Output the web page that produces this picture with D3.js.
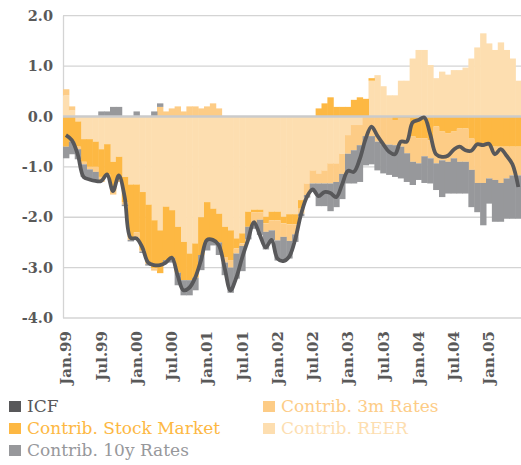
<!DOCTYPE html>
<html>
<head>
<meta charset="utf-8">
<script src="https://cdn.jsdelivr.net/npm/d3@7"></script>
<style>
  body { margin: 0; background: #fff; }
  svg { display: block; }
  text { font-family: 'DejaVu Serif', serif; }
</style>
</head>
<body>
<svg width="521" height="465"></svg>
<script>
// monthly categories, Jan.99 .. Jun.05
var months = d3.timeMonths(new Date(1999, 0, 1), new Date(2005, 6, 1));
var tickLabels = ['Jan.99', 'Jul.99', 'Jan.00', 'Jul.00', 'Jan.01', 'Jul.01', 'Jan.02',
  'Jul.02', 'Jan.03', 'Jul.03', 'Jan.04', 'Jul.04', 'Jan.05'];
var yTicks = [-4, -3, -2, -1, 0, 1, 2];

// contributions (stacked bars)
var reer = [0.42, 0.12, -0.10, -0.45, -0.45, -0.50, -0.65, -0.55, -0.90, -0.80,
  -1.20, -1.35, -1.35, -1.50, -1.75, -2.06, -2.26, -1.79, -1.86, -2.19,
  -2.49, -2.72, -2.52, -2.00, -1.70, -1.83, -1.93, -2.19, -2.26, -2.42,
  -2.32, -1.89, -1.85, -1.85, -1.99, -1.89, -1.89, -1.99, -1.94, -1.94,
  -1.66, -1.33, -1.07, -1.13, -1.07, -0.93, -0.93, -0.74, -0.37, -0.17,
  -0.17, 0, 0.71, 0.82, 0.60, 0.42, 0.42, 0.71, 0.71, 1.15,
  1.32, 1.32, 1.02, 0.76, 0.89, 0.83, 0.92, 0.92, 0.97, 1.15,
  1.37, 1.65, 1.45, 1.32, 1.47, 1.32, 1.15, 0.71];
var stock = [-0.60, -0.50, -0.50, -0.45, -0.55, -0.50, -0.55, -0.60, -0.55, -0.45,
  -0.50, -1.05, -0.95, -1.15, -1.15, -0.95, -0.85, -1.06, -0.94, -0.91,
  -0.76, -0.53, -0.68, -0.75, -0.76, -0.63, -0.57, -0.60, -0.59, -0.20,
  -0.20, -0.30, -0.05, -0.05, -0.13, -0.17, -0.17, -0.13, -0.20, -0.20,
  -0.17, 0, 0, 0.16, 0.26, 0.38, 0.19, 0.19, 0.19, 0.33,
  0.38, 0.35, 0.05, 0, 0, 0, -0.07, -0.03, -0.03, -0.40,
  -0.43, -0.43, -0.47, -0.20, -0.30, -0.33, -0.30, -0.24, -0.24, -0.44,
  -0.60, -0.60, -0.60, -0.60, -0.60, -0.60, -0.60, -0.60];
var rates3m = [0.12, 0.08, -0.05, -0.05, -0.05, -0.10, -0.10, -0.05, -0.10, -0.05,
  -0.05, -0.05, -0.10, -0.03, -0.03, -0.05, 0.19, 0.10, 0.16, 0.20,
  0.10, 0.20, 0.20, 0.16, 0.20, 0.26, 0.16, -0.11, -0.15, -0.10,
  -0.05, 0, -0.23, -0.15, -0.17, -0.20, -0.40, -0.27, -0.33, -0.20,
  -0.10, -0.23, -0.26, -0.20, -0.26, -0.40, -0.37, -0.40, -0.37, -0.50,
  -0.40, -0.39, -0.39, -0.50, -0.56, -0.56, -0.50, -0.57, -0.70, -0.50,
  -0.50, -0.36, -0.36, -0.73, -0.57, -0.57, -0.53, -0.66, -0.66, -0.62,
  -0.72, -0.72, -0.63, -0.66, -0.72, -0.63, -0.57, -0.57];
var rates10y = [-0.23, -0.25, -0.20, -0.25, -0.20, -0.20, 0.10, 0.10, 0.19, 0.19,
  -0.03, -0.03, 0.10, -0.03, -0.03, 0.10, 0.07, -0.05, -0.10, -0.25,
  -0.30, -0.30, -0.25, -0.30, -0.20, -0.10, -0.25, -0.25, -0.50, -0.50,
  -0.50, -0.25, -0.10, -0.30, -0.35, -0.20, -0.40, -0.50, -0.35, -0.15,
  -0.05, -0.05, -0.12, -0.45, -0.45, -0.55, -0.50, -0.50, -0.59, -0.66,
  -0.73, -0.58, -0.56, -0.57, -0.57, -0.60, -0.63, -0.63, -0.57, -0.46,
  -0.33, -0.53, -0.50, -0.53, -0.73, -0.63, -0.70, -0.63, -0.63, -0.74,
  -0.58, -0.84, -0.50, -0.83, -0.77, -0.80, -0.86, -0.86];
// ICF line
var icf = [-0.37, -0.47, -0.75, -1.20, -1.25, -1.28, -1.28, -1.15, -1.48, -1.17,
  -1.60, -2.41, -2.42, -2.60, -2.90, -2.95, -2.95, -2.90, -2.80, -3.15,
  -3.45, -3.40, -3.20, -2.85, -2.45, -2.45, -2.55, -3.00, -3.45, -3.20,
  -2.80, -2.45, -2.10, -2.35, -2.60, -2.45, -2.82, -2.87, -2.78, -2.45,
  -1.95, -1.60, -1.45, -1.58, -1.50, -1.52, -1.60, -1.35, -1.08, -1.10,
  -0.85, -0.45, -0.20, -0.38, -0.55, -0.70, -0.75, -0.50, -0.50, -0.12,
  -0.07, -0.02, -0.35, -0.75, -0.80, -0.78, -0.66, -0.60, -0.67, -0.68,
  -0.55, -0.57, -0.54, -0.75, -0.65, -0.78, -0.95, -1.40];

var keys = ['reer', 'stock', 'rates3m', 'rates10y'];
var colors = {
  icf: '#58585a',
  stock: '#fdb843',
  rates10y: '#97989b',
  rates3m: '#fdcc86',
  reer: '#fddeb0'
};

var rows = months.map(function (m, i) {
  return { reer: reer[i], stock: stock[i], rates3m: rates3m[i], rates10y: rates10y[i] };
});

var svg = d3.select('svg');

var x = d3.scaleBand().domain(d3.range(months.length)).range([63, 521.25]).padding(0);
var y = d3.scaleLinear().domain([-4, 2]).range([318, 15.7]);

// gridlines
svg.append('g')
  .selectAll('line')
  .data(yTicks.filter(function (d) { return d !== 0; }))
  .enter()
  .append('line')
  .attr('x1', 63)
  .attr('x2', 521)
  .attr('y1', function (d) { return y(d); })
  .attr('y2', function (d) { return y(d); })
  .attr('stroke', '#d4d4d4')
  .attr('stroke-width', 1.3);

svg.append('line')
  .attr('x1', 63.5).attr('x2', 63.5)
  .attr('y1', y(2)).attr('y2', y(-4))
  .attr('stroke', '#d4d4d4')
  .attr('stroke-width', 1.3);

// stacked bars
var series = d3.stack().keys(keys).offset(d3.stackOffsetDiverging)(rows);

svg.append('g')
  .selectAll('g')
  .data(series)
  .enter()
  .append('g')
  .attr('fill', function (d) { return colors[d.key]; })
  .selectAll('rect')
  .data(function (d) { return d; })
  .enter()
  .append('rect')
  .attr('x', function (d, i) { return x(i); })
  .attr('width', x.bandwidth() + 0.5)
  .attr('y', function (d) { return y(Math.max(d[0], d[1])); })
  .attr('height', function (d) { return Math.abs(y(d[0]) - y(d[1])); });

// zero line
svg.append('line')
  .attr('x1', 63)
  .attr('x2', 521)
  .attr('y1', y(0))
  .attr('y2', y(0))
  .attr('stroke', '#cbcbcb')
  .attr('stroke-width', 2.5);

// ICF line
var line = d3.line()
  .x(function (d, i) { return x(i) + x.bandwidth() / 2; })
  .y(function (d) { return y(d); })
  .curve(d3.curveCatmullRom.alpha(0.5));

svg.append('path')
  .datum(icf)
  .attr('fill', 'none')
  .attr('stroke', colors.icf)
  .attr('stroke-width', 3.8)
  .attr('stroke-linejoin', 'round')
  .attr('d', line);

// y axis labels
svg.append('g')
  .selectAll('text')
  .data(yTicks)
  .enter()
  .append('text')
  .attr('x', 53)
  .attr('y', function (d) { return y(d); })
  .attr('dy', '0.36em')
  .attr('text-anchor', 'end')
  .attr('fill', '#595959')
  .attr('font-size', '14.5px')
  .attr('font-weight', 'bold')
  .text(function (d) { return d.toFixed(1); });

// x axis labels, one every six months
svg.append('g')
  .selectAll('text')
  .data(tickLabels)
  .enter()
  .append('text')
  .attr('transform', function (d, i) {
    return 'translate(' + (x(i * 6) + x.bandwidth() / 2) + ',331) rotate(-90)';
  })
  .attr('dy', '0.36em')
  .attr('text-anchor', 'end')
  .attr('fill', '#595959')
  .attr('font-size', '15px')
  .attr('font-weight', 'bold')
  .text(function (d) { return d; });

// legend
var legendItems = [
  { key: 'icf', label: 'ICF', x: 9, y: 412 },
  { key: 'stock', label: 'Contrib. Stock Market', x: 9, y: 434 },
  { key: 'rates10y', label: 'Contrib. 10y Rates', x: 9, y: 456 },
  { key: 'rates3m', label: 'Contrib. 3m Rates', x: 263, y: 412 },
  { key: 'reer', label: 'Contrib. REER', x: 263, y: 434 }
];

var legend = svg.append('g')
  .selectAll('g')
  .data(legendItems)
  .enter()
  .append('g');

legend.append('rect')
  .attr('x', function (d) { return d.x; })
  .attr('y', function (d) { return d.y - 11; })
  .attr('width', 12)
  .attr('height', 11)
  .attr('fill', function (d) { return colors[d.key]; });

legend.append('text')
  .attr('x', function (d) { return d.x + 18; })
  .attr('y', function (d) { return d.y; })
  .attr('fill', function (d) { return colors[d.key]; })
  .attr('font-size', '17px')
  .text(function (d) { return d.label; });
</script>
</body>
</html>
